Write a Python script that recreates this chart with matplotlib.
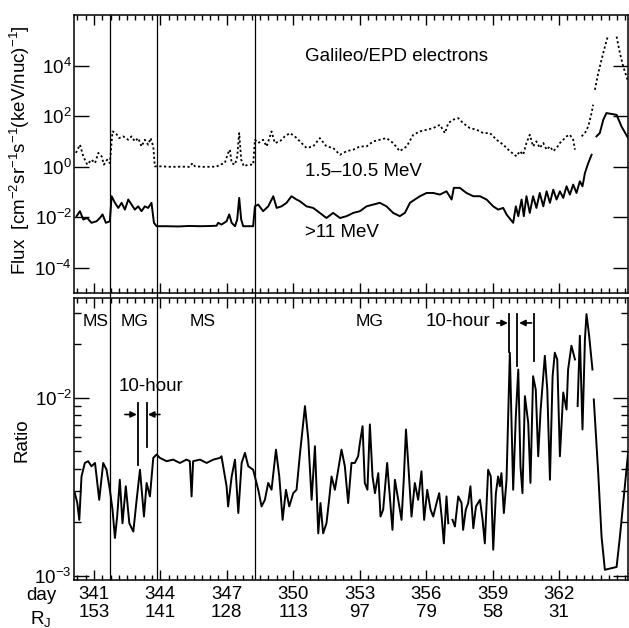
import numpy as np
import matplotlib
matplotlib.use("Agg")
import matplotlib.pyplot as plt
from matplotlib.ticker import LogLocator, NullLocator, NullFormatter, FixedLocator

plt.rcParams["font.family"] = ["Liberation Sans", "DejaVu Sans"]
plt.rcParams["mathtext.fontset"] = "custom"
plt.rcParams["mathtext.rm"] = "Liberation Sans"
plt.rcParams["mathtext.it"] = "Liberation Sans:italic"
plt.rcParams["mathtext.bf"] = "Liberation Sans:bold"

nan = np.nan

# x axis labels
tick_days = [341, 344, 347, 350, 353, 356, 359, 362]
tick_rj = [153, 141, 128, 113, 97, 79, 58, 31]

# boundaries MS / MG
boundaries = [341.72, 343.84, 348.27]

# >11 MeV flux
hi_day = [340.22, 340.37, 340.52, 340.70, 340.89, 341.12, 341.27, 341.39, 341.54, 341.72,
          341.80, 341.95, 342.10, 342.25, 342.40, 342.55, 342.70, 342.85, 343.00, 343.15,
          343.30, 343.45, 343.60, 343.71, 343.83, 344.30, 344.80, 345.30, 345.80, 346.30,
          346.54, 346.61, 346.76, 346.99, 347.11, 347.22, 347.37, 347.47, 347.56, 347.65,
          347.74, 347.97, 348.19, 348.27, 348.42, 348.64, 348.87, 349.10, 349.25, 349.47,
          349.70, 349.92, 350.15, 350.30, 350.60, 350.90, 351.20, 351.50, 351.80, 352.11,
          352.41, 352.71, 353.01, 353.31, 353.61, 353.91, 354.21, 354.51, 354.81, 355.04,
          355.27, 355.49, 355.72, 356.02, 356.32, 356.62, 356.92, 357.15, 357.25, 357.52,
          357.82, 358.13, 358.43, 358.73, 359.03, 359.25, 359.48, 359.63, 359.81, 359.93,
          360.05, 360.16, 360.31, 360.41, 360.53, 360.68, 360.83, 360.98, 361.13, 361.29,
          361.44, 361.59, 361.74, 361.89, 362.04, 362.19, 362.34, 362.49, 362.64, 362.79,
          362.94, 363.06, 363.17, 363.32, 363.47, 363.55, 363.69, 363.84, 364.00, 364.14,
          364.60, 364.82, 365.12]
hi_flux = [0.0110, 0.0173, 0.0081, 0.0093, 0.0060, 0.0069, 0.0093, 0.0129, 0.0060, 0.0069,
           0.0676, 0.0371, 0.0233, 0.0371, 0.0200, 0.050, 0.0316, 0.0200, 0.0269, 0.0173,
           0.0269, 0.0233, 0.0371, 0.0060, 0.0044, 0.0044, 0.0043, 0.0045, 0.0044, 0.0045,
           0.0046, 0.0060, 0.0051, 0.0069, 0.0129, 0.0060, 0.0044, 0.0081, 0.058, 0.0081,
           0.0044, 0.0044, 0.0044, 0.0269, 0.0316, 0.0173, 0.0269, 0.0676, 0.0233, 0.0269,
           0.0371, 0.0676, 0.050, 0.0428, 0.0269, 0.0233, 0.0148, 0.0093, 0.0148, 0.0093,
           0.0110, 0.0148, 0.0173, 0.0269, 0.0316, 0.0371, 0.0269, 0.0148, 0.0110, 0.0148,
           0.0371, 0.050, 0.0676, 0.091, 0.091, 0.0785, 0.106, 0.050, 0.145, 0.145,
           0.091, 0.0676, 0.0676, 0.050, 0.0269, 0.0200, 0.0233, 0.0129, 0.0081, 0.0060,
           0.0269, 0.0110, 0.050, 0.0110, 0.0676, 0.0148, 0.0676, 0.0233, 0.091, 0.0269,
           0.106, 0.0371, 0.123, 0.050, 0.106, 0.058, 0.167, 0.0785, 0.195, 0.091,
           0.264, 0.167, 0.56, 1.38, 2.95, nan, 15.8, 21.3, 72, 132,
           112, 39, 13.5]

# 1.5-10.5 MeV flux
lo_day = [340.19, 340.37, 340.52, 340.70, 340.89, 341.05, 341.20, 341.35, 341.45, 341.60,
          341.72, 341.84, 341.99, 342.14, 342.32, 342.55, 342.70, 342.85, 343.00, 343.15,
          343.30, 343.45, 343.56, 343.68, 343.75, 343.98, 344.50, 345.00, 345.33, 345.45,
          345.56, 346.00, 346.54, 346.69, 346.91, 347.06, 347.14, 347.22, 347.37, 347.47,
          347.56, 347.65, 347.77, 347.97, 348.19, 348.27, 348.42, 348.64, 348.80, 349.02,
          349.17, 349.40, 349.62, 349.85, 350.07, 350.30, 350.60, 350.90, 351.20, 351.50,
          351.80, 352.11, 352.41, 352.71, 353.01, 353.31, 353.61, 353.91, 354.21, 354.51,
          354.81, 355.12, 355.42, 355.72, 356.02, 356.32, 356.62, 356.85, 357.00, 357.22,
          357.45, 357.67, 357.97, 358.28, 358.58, 358.88, 359.18, 359.48, 359.78, 360.08,
          360.23, 360.38, 360.53, 360.68, 360.83, 360.98, 361.13, 361.29, 361.44, 361.59,
          361.74, 361.89, 362.04, 362.19, 362.34, 362.49, 362.64, 362.72, 362.85, 363.02,
          363.17, 363.32, 363.47, 363.54, 363.58, 363.62, 363.77, 363.92, 364.07, 364.22,
          364.30, 364.60, 364.75, 364.90, 365.12]
lo_flux = [3.5, 7.4, 2.56, 1.20, 1.89, 1.38, 3.5, 2.56, 1.20, 1.89,
           1.38, 24.8, 21.3, 13.5, 15.8, 11.6, 15.8, 10.0, 13.5, 6.3,
           11.6, 7.4, 13.5, 6.3, 1.03, 1.03, 0.98, 1.0, 0.98, 1.38,
           1.03, 0.98, 1.0, 1.20, 1.38, 3.5, 4.7, 1.38, 1.20, 2.56,
           21.3, 1.89, 1.03, 1.20, 1.20, 11.6, 8.6, 11.6, 6.3, 24.8,
           8.6, 10.0, 15.8, 21.3, 15.8, 10.0, 5.5, 6.3, 13.5, 6.3,
           5.5, 2.95, 4.1, 4.7, 6.3, 6.3, 10.0, 11.6, 13.5, 8.6,
           4.1, 6.3, 18.3, 24.8, 28.9, 33.6, 45, 21.3, 53, 72,
           83, 53, 33.6, 28.9, 21.3, 21.3, 11.6, 7.4, 4.1, 2.56,
           4.1, 2.95, 8.6, 18.3, 6.3, 10.0, 5.5, 8.6, 4.7, 6.3,
           4.1, 5.5, 8.6, 11.6, 15.8, 18.3, 11.6, 4.7, nan, 15.8,
           21.3, 39, 132, 282, nan, 1.1e3, 5.0e3, 1.7e4, 5.6e4, 1.6e5,
           nan, 1.4e5, 3.1e4, 9.1e3, 2.3e3]

# ratio, units of 1e-3
ratio_day = [340.14, 340.25, 340.34, 340.44, 340.59, 340.74, 340.89, 341.05, 341.24, 341.42,
             341.57, 341.72, 341.84, 341.95, 342.05, 342.17, 342.29, 342.44, 342.60, 342.78,
             342.93, 343.08, 343.26, 343.38, 343.53, 343.68, 343.83, 343.98, 344.28, 344.58,
             344.88, 345.18, 345.33, 345.41, 345.48, 345.79, 346.09, 346.39, 346.69, 346.76,
             346.99, 347.06, 347.22, 347.37, 347.52, 347.67, 347.82, 347.97, 348.19, 348.42,
             348.57, 348.72, 348.87, 349.02, 349.22, 349.37, 349.52, 349.67, 349.82, 350.00,
             350.15, 350.30, 350.53, 350.68, 350.83, 350.98, 351.13, 351.23, 351.35, 351.50,
             351.62, 351.73, 351.88, 352.03, 352.18, 352.33, 352.48, 352.63, 352.78, 352.93,
             353.01, 353.13, 353.23, 353.35, 353.46, 353.58, 353.69, 353.84, 353.94, 354.06,
             354.24, 354.36, 354.48, 354.59, 354.74, 354.89, 354.99, 355.09, 355.19, 355.34,
             355.49, 355.64, 355.79, 355.91, 356.05, 356.20, 356.32, 356.47, 356.59, 356.70,
             356.80, 356.92, 357.00, 357.10, 357.19, 357.30, 357.45, 357.60, 357.67, 357.79,
             357.90, 358.00, 358.13, 358.25, 358.43, 358.55, 358.65, 358.80, 358.92, 359.03,
             359.15, 359.25, 359.33, 359.40, 359.51, 359.63, 359.78, 359.93, 360.05, 360.16,
             360.26, 360.35, 360.46, 360.61, 360.71, 360.83, 360.95, 361.06, 361.17, 361.36,
             361.47, 361.59, 361.71, 361.81, 361.92, 362.04, 362.19, 362.34, 362.41, 362.56,
             362.72, 362.78, 362.84, 362.94, 363.06, 363.17, 363.24, 363.36, 363.51, 363.54,
             363.57, 363.77, 363.92, 364.07, 364.60, 364.75, 365.12]
ratio_val = [2.91, 2.56, 2.06, 3.61, 4.30, 4.40, 4.12, 4.30, 2.67, 4.30,
             3.94, 3.04, 2.35, 1.63, 2.15, 3.46, 1.97, 3.18, 1.97, 1.77,
             2.67, 3.94, 2.15, 3.32, 2.79, 4.59, 4.80, 4.59, 4.40, 4.49,
             4.30, 4.49, 4.40, 2.79, 4.40, 4.49, 4.30, 4.49, 4.59, 4.69,
             3.18, 2.45, 3.61, 4.49, 2.25, 4.30, 4.90, 4.12, 3.94, 3.04,
             2.45, 2.67, 3.32, 3.04, 5.11, 3.61, 2.06, 3.04, 2.45, 2.91,
             3.04, 4.79, 8.97, 5.82, 2.67, 5.34, 1.73, 2.56, 1.73, 1.97,
             2.67, 3.61, 3.04, 3.94, 5.11, 4.12, 2.56, 4.30, 4.30, 4.69,
             5.57, 6.92, 3.32, 3.04, 7.08, 3.61, 2.91, 3.77, 2.15, 2.35,
             4.30, 2.79, 1.81, 3.46, 2.67, 2.06, 3.46, 6.63, 4.30, 2.15,
             3.32, 2.67, 3.86, 2.06, 3.04, 2.35, 2.15, 2.56, 2.91, 2.15,
             1.52, 2.79, 1.97, nan, 2.06, 1.89, 2.79, 2.56, 1.81, 2.35,
             2.56, 3.18, 1.85, 2.45, 2.67, 2.06, 1.52, 3.94, 3.61, 1.40,
             2.91, 3.61, 3.18, 3.77, 2.25, 3.46, 17.9, 3.04, 7.88, 14.4,
             4.12, 2.91, 10.2, 7.23, 3.32, 13.2, 11.1, 4.69, 8.58, 17.2,
             11.1, 3.46, 13.2, 17.9, 16.4, 4.69, 10.7, 8.58, 14.4, 19.6,
             16.4, nan, 8.97, 22.3, 6.63, 21.3, 29.5, 22.3, 14.4, nan,
             9.78, 3.77, 1.66, 1.08, 1.12, 1.66, 4.90]

fig = plt.figure(figsize=(6.29, 6.28), dpi=100)
ax1 = fig.add_axes([0.1176, 0.5334, 0.8810, 0.4427])
ax2 = fig.add_axes([0.1176, 0.0764, 0.8810, 0.4490])

xmin, xmax = 340.10, 365.12
minor_x = np.arange(340.25, 365.2, 0.375)

# top panel: fluxes
ax1.plot(lo_day, lo_flux, color="k", lw=1.3, ls=(0, (1.2, 1.4)))
ax1.plot(hi_day, hi_flux, color="k", lw=1.4)
ax1.set_yscale("log")
ax1.set_ylim(1e-5, 1e6)
ax1.set_xlim(xmin, xmax)
ax1.set_yticks([1e-4, 1e-2, 1, 1e2, 1e4])
ax1.yaxis.set_minor_locator(NullLocator())
ax1.set_xticks(tick_days)
ax1.xaxis.set_minor_locator(FixedLocator(minor_x))
ax1.set_xticklabels([])
ax1.text(0.417, 0.849, "Galileo/EPD electrons", transform=ax1.transAxes,
         fontsize=13.5, va="center", ha="left")
ax1.text(0.417, 0.436, "1.5\u201310.5 MeV", transform=ax1.transAxes,
         fontsize=13.5, va="center", ha="left")
ax1.text(0.417, 0.217, ">11 MeV", transform=ax1.transAxes,
         fontsize=13.5, va="center", ha="left")

# bottom panel: ratio
ax2.plot(ratio_day, np.array(ratio_val) * 1e-3, color="k", lw=1.4)
ax2.set_yscale("log")
ax2.set_ylim(9.46e-4, 3.63e-2)
ax2.set_xlim(xmin, xmax)
ax2.set_yticks([1e-3, 1e-2])
ax2.yaxis.set_minor_locator(LogLocator(base=10, subs=np.arange(2, 10)))
ax2.yaxis.set_minor_formatter(NullFormatter())
ax2.set_xticks(tick_days)
ax2.xaxis.set_minor_locator(FixedLocator(minor_x))
ax2.set_xticklabels([f"{d}\n{r}" for d, r in zip(tick_days, tick_rj)],
                    linespacing=1.1)

for ax in (ax1, ax2):
    for s in ax.spines.values():
        s.set_linewidth(1.1)
    ax.tick_params(which="both", direction="in", top=True, right=True,
                   labelsize=13.5, width=1.0)
    ax.tick_params(axis="y", which="major", length=11, pad=1.5)
    ax.tick_params(axis="y", which="minor", length=5)
    ax.tick_params(axis="x", which="major", length=7, pad=4)
    ax.tick_params(axis="x", which="minor", length=3.5)

for b in boundaries:
    ax1.axvline(b, ymin=-0.025, ymax=1, color="k", lw=0.9, clip_on=False)
    ax2.axvline(b, color="k", lw=0.9)

# region labels
for xf, lab in [(0.0397, "MS"), (0.110, "MG"), (0.233, "MS"), (0.534, "MG")]:
    ax2.text(xf, 0.918, lab, transform=ax2.transAxes, fontsize=12.5,
             ha="center", va="center")

# 10-hour markers
ax2.text(0.139, 0.687, "10-hour", transform=ax2.transAxes, fontsize=13.5,
         ha="center", va="center")
ax2.text(0.693, 0.917, "10-hour", transform=ax2.transAxes, fontsize=13.5,
         ha="center", va="center")
mark_left = [(342.99, 9.4e-3, 4.2e-3), (343.38, 9.4e-3, 5.3e-3)]
mark_right = [(359.75, 2.95e-2, 1.8e-2), (360.11, 2.95e-2, 1.5e-2), (360.88, 2.95e-2, 1.6e-2)]
for x, y0, y1 in mark_left + mark_right:
    ax2.plot([x, x], [y0, y1], color="k", lw=1.3)
arrow = dict(arrowstyle="-|>", color="k", lw=1.2, mutation_scale=9, shrinkA=0, shrinkB=0)
ax2.annotate("", xy=(342.94, 8.05e-3), xytext=(342.40, 8.05e-3), arrowprops=arrow)
ax2.annotate("", xy=(343.44, 8.05e-3), xytext=(343.98, 8.05e-3), arrowprops=arrow)
ax2.annotate("", xy=(359.69, 2.63e-2), xytext=(359.19, 2.63e-2), arrowprops=arrow)
ax2.annotate("", xy=(360.20, 2.63e-2), xytext=(360.76, 2.63e-2), arrowprops=arrow)

# axis titles
fig.text(20 / 629, 1 - 150 / 628,
         "Flux  [cm$^{-2}$sr$^{-1}$s$^{-1}$(keV/nuc)$^{-1}$]",
         rotation=90, fontsize=13.5, ha="center", va="center")
fig.text(22 / 629, 1 - 440 / 628, "Ratio", rotation=90, fontsize=13.5,
         ha="center", va="center")
fig.text(41 / 629, 1 - 596 / 628, "day", fontsize=13.5, ha="center", va="center")
fig.text(41 / 629, 1 - 619 / 628, "R$_{\\rm J}$", fontsize=13.5, ha="center", va="center")

fig.savefig("out.png", dpi=100)
